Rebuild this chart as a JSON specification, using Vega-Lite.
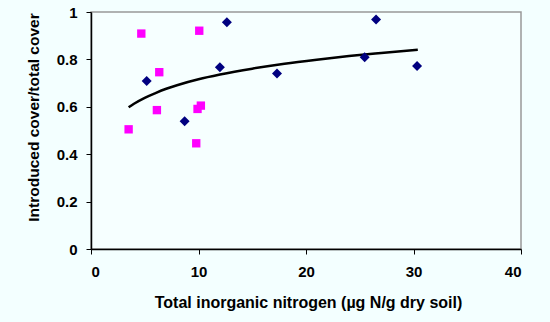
{
  "$schema": "https://vega.github.io/schema/vega-lite/v6.json",
  "width": 430,
  "height": 237,
  "autosize": {"type": "none"},
  "padding": {"left": 91, "top": 12, "right": 29, "bottom": 73},
  "background": "#F3FFFF",
  "config": {
    "view": {"stroke": "#999999", "strokeWidth": 1.5, "fill": "#F6FFFF"},
    "font": "Liberation Sans"
  },
  "datasets": {
    "pts": [
      {"n": 5.18, "r": 0.709, "g": "A"},
      {"n": 8.71, "r": 0.539, "g": "A"},
      {"n": 11.99, "r": 0.767, "g": "A"},
      {"n": 12.64, "r": 0.957, "g": "A"},
      {"n": 17.3, "r": 0.741, "g": "A"},
      {"n": 25.46, "r": 0.809, "g": "A"},
      {"n": 26.52, "r": 0.968, "g": "A"},
      {"n": 30.33, "r": 0.772, "g": "A"},
      {"n": 4.68, "r": 0.909, "g": "B"},
      {"n": 10.07, "r": 0.921, "g": "B"},
      {"n": 6.35, "r": 0.746, "g": "B"},
      {"n": 6.13, "r": 0.586, "g": "B"},
      {"n": 9.91, "r": 0.591, "g": "B"},
      {"n": 10.22, "r": 0.605, "g": "B"},
      {"n": 3.5, "r": 0.505, "g": "B"},
      {"n": 9.79, "r": 0.446, "g": "B"}
    ],
    "fit": [
      {"n": 3.5, "r": 0.598},
      {"n": 4, "r": 0.613},
      {"n": 5, "r": 0.638},
      {"n": 6, "r": 0.658},
      {"n": 7, "r": 0.676},
      {"n": 8, "r": 0.691},
      {"n": 10, "r": 0.716},
      {"n": 12, "r": 0.736},
      {"n": 15, "r": 0.761},
      {"n": 18, "r": 0.782},
      {"n": 21, "r": 0.799},
      {"n": 24, "r": 0.814},
      {"n": 27, "r": 0.827},
      {"n": 30.4, "r": 0.841}
    ]
  },
  "encoding": {
    "x": {
      "field": "n", "type": "quantitative",
      "scale": {"domain": [0, 40], "nice": false, "zero": true},
      "axis": {
        "values": [0, 10, 20, 30, 40],
        "grid": false,
        "domainColor": "#000000", "domainWidth": 1.5,
        "tickColor": "#000000", "tickSize": 5,
        "labelFont": "Liberation Sans", "labelFontWeight": "bold", "labelFontSize": 15,
        "labelColor": "#000000", "labelPadding": 10,
        "title": "Total inorganic nitrogen (µg N/g dry soil)",
        "titleFont": "Liberation Sans", "titleFontWeight": "bold", "titleFontSize": 16,
        "titleColor": "#000000",
        "titleX": 217, "titleY": 53, "titleBaseline": "middle", "titleAlign": "center"
      }
    },
    "y": {
      "field": "r", "type": "quantitative",
      "scale": {"domain": [0, 1], "nice": false},
      "axis": {
        "values": [0, 0.2, 0.4, 0.6, 0.8, 1],
        "format": ".1~f",
        "grid": false,
        "domainColor": "#000000", "domainWidth": 1.5,
        "tickColor": "#000000", "tickSize": 5,
        "labelFont": "Liberation Sans", "labelFontWeight": "bold", "labelFontSize": 15,
        "labelColor": "#000000", "labelPadding": 9,
        "title": "Introduced cover/total cover",
        "titleFont": "Liberation Sans", "titleFontWeight": "bold", "titleFontSize": 15.5,
        "titleColor": "#000000",
        "titleAngle": -90, "titleX": -58, "titleY": 105,
        "titleBaseline": "middle", "titleAlign": "center"
      }
    }
  },
  "layer": [
    {
      "data": {"name": "fit"},
      "mark": {"type": "line", "color": "#000000", "strokeWidth": 2.5, "interpolate": "monotone"}
    },
    {
      "data": {"name": "pts"},
      "mark": {"type": "point", "filled": true, "opacity": 1},
      "encoding": {
        "color": {"field": "g", "type": "nominal", "scale": {"domain": ["A", "B"], "range": ["#000080", "#FF00FF"]}, "legend": null},
        "shape": {"field": "g", "type": "nominal", "scale": {"domain": ["A", "B"], "range": ["diamond", "square"]}, "legend": null},
        "size": {"field": "g", "type": "nominal", "scale": {"domain": ["A", "B"], "range": [100, 70]}, "legend": null}
      }
    }
  ]
}
